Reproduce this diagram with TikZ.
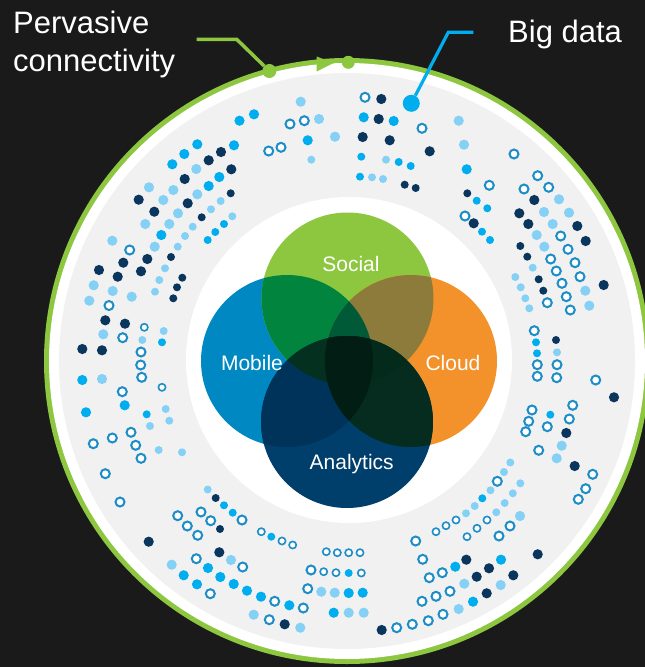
\documentclass[tikz,border=0pt]{standalone}
\usepackage{fontspec}
\setmainfont{Liberation Sans}
\definecolor{bgdark}{HTML}{1A1A1A}
\definecolor{ringgreen}{HTML}{8DC63F}
\definecolor{diskgrey}{HTML}{F1F1F1}
\definecolor{dotnavy}{HTML}{0A365E}
\definecolor{dotcyan}{HTML}{00AEEF}
\definecolor{dotlight}{HTML}{84D1F5}
\definecolor{dotring}{HTML}{1C8DC6}
\definecolor{mobileblue}{HTML}{0088C2}
\definecolor{socialgreen}{HTML}{8DC63F}
\definecolor{cloudorange}{HTML}{F3922B}
\definecolor{analyticsnavy}{HTML}{003E6B}
\definecolor{msgreen}{HTML}{00843E}
\definecolor{scolive}{HTML}{8C7B3A}
\definecolor{mscgreen}{HTML}{005A37}
\definecolor{manavy}{HTML}{00335A}
\definecolor{cagreen}{HTML}{052C1F}
\definecolor{msagreen}{HTML}{04311F}
\definecolor{csagreen}{HTML}{042A1C}
\definecolor{corenavy}{HTML}{021D13}
\newcommand\MobileDisk{(287,361) circle[radius=86pt]}
\newcommand\SocialDisk{(347.5,298.5) circle[radius=86pt]}
\newcommand\CloudDisk{(411,361) circle[radius=86pt]}
\newcommand\AnalyticsDisk{(347,422) circle[radius=86pt]}
\newcommand\LabelFont{\fontsize{31}{38}\selectfont}
\newcommand\VennFont{\fontsize{21}{25}\selectfont}

\begin{document}
\begin{tikzpicture}[x=1pt,y=-1pt,
  navydot/.style={fill=dotnavy},
  cyandot/.style={fill=dotcyan},
  lightdot/.style={fill=dotlight},
  ringdot/.style={draw=dotring,fill=white,line width=2pt},
  smallring/.style={draw=dotring,fill=white,line width=1.6pt},
  vennlabel/.style={text=white,font=\VennFont,anchor=base,inner sep=0pt},
  sidelabel/.style={text=white,font=\LabelFont,anchor=base west,inner sep=0pt}]
\fill[bgdark] (0,0) rectangle (645,667);
\useasboundingbox (0,0) rectangle (645,667);
% Drawing rings
\fill[ringgreen] (347,361) circle[radius=303pt];
\fill[white] (347,361) circle[radius=298pt];
\fill[diskgrey] (347,361) circle[radius=288pt];
\fill[white] (349,360) circle[radius=163pt];
\fill[ringgreen] (316.7,56.5) -- (333.5,63) -- (316.7,71.5) -- cycle;
% Done with rings; drawing dots
\foreach \x/\y in {381.3/99, 378.7/119, 362.7/137, 389.7/140.3, 429.7/151.3, 534.3/200, 519.3/213.3, 528.3/224, 473.7/223.3, 577.3/226, 585.7/241, 603.7/285, 614/397.3, 566.3/433, 574.7/466, 537.7/554.3, 466.3/559.7, 489/568.3, 476.7/576.7, 513.3/575.3, 486.7/593.3, 381.7/630, 148.7/541.7, 219.3/552.3, 284.7/624.3, 105.3/320.3, 125/323.7, 82.3/349, 102/350.3, 221/152, 208.7/160.3, 231.3/169.3, 184.7/179, 138.7/199.7, 187.7/203.3, 154.3/211.7, 123.3/262.7, 147.3/259, 99/270, 141/271.3, 117.7/276.7}
  \fill[navydot] (\x,\y) circle[radius=5.1pt];
\foreach \x/\y in {404.7/184.7, 415.7/188, 467.3/193.3, 520.3/246, 527.3/256.7, 538.7/279.3, 543.3/290.7, 556/340, 215.7/498, 220/529, 173.3/298.3, 230.7/193.3, 201.7/217.3, 171/257, 182.3/277.7, 177/287.3}
  \fill[navydot] (\x,\y) circle[radius=4pt];
\foreach \x/\y in {254/114.3, 239.5/120.7, 307.7/140.3, 363.7/117.3, 393.7/121, 466.7/169.3, 501/559.7, 455.3/566.7, 473/601.7, 208/568, 183.7/575.3, 220.3/577, 197/584.3, 233.7/584, 247/590.7, 261/596.7, 289.3/605.3, 348.7/593, 362.7/592.7, 333.7/612.7, 124.7/405.3, 86/412.3, 82.3/380, 197.3/144.3, 234/145.3, 184.3/154, 172.3/164.3, 219.3/177, 208.7/186, 161.3/235}
  \fill[cyandot] (\x,\y) circle[radius=5.1pt];
\foreach \x/\y in {361.3/156.7, 398.7/162, 410.7/166, 360/176.7, 476.7/200.7, 487.3/208.3, 482/231.7, 490/240, 536/342.3, 537/353.3, 550.3/414.7, 482.3/498.3, 224/505.3, 232.7/512.7, 271.3/536.7, 348.7/573, 162/342.3, 146.7/414.3, 224/224, 215.3/232, 207.7/240}
  \fill[cyandot] (\x,\y) circle[radius=4pt];
\foreach \x/\y in {300.7/101.7, 319/119, 335/136.7, 458.7/120.7, 464/144.7, 559/199.3, 544/212, 569/212.7, 552.7/224, 536.7/235, 544.3/246.7, 585.3/290.7, 589.3/305.7, 561.7/445.7, 556.7/458.3, 520/516, 464.3/583.7, 500.7/585, 458.7/609, 321.3/591.7, 334.7/592.7, 348.7/612.7, 363.7/612.7, 231/560, 171.7/564.7, 253.7/614.7, 300.3/627.7, 89.3/300.7, 131.7/296.7, 103.3/334.3, 102/379, 149/187.3, 196.3/169, 173.3/190, 163.3/200, 197.3/194.3, 178/213.3, 145.3/224, 169.3/224, 112.3/240.7, 154.7/246.7, 93.7/285.3, 112.7/291}
  \fill[lightdot] (\x,\y) circle[radius=5.1pt];
\foreach \x/\y in {311.3/159.7, 386/159.7, 372/177.3, 383/179, 532.7/267.7, 515.3/277, 520.7/287.3, 525.3/298.3, 529.3/308.3, 557/352.3, 510.3/462.5, 504/472, 520.3/483.3, 490.5/490.3, 512.8/493.3, 504.7/503, 474.7/506, 496.3/512.3, 466/513.3, 207.7/489.5, 155/291.7, 163.7/331, 142.3/340, 165.7/409, 169.3/420.7, 150/426, 158.7/450, 182/452.3, 220.7/201, 211/209.3, 232.3/216.3, 192.7/226.7, 185/236, 177.7/246.7, 165/268.3, 159.3/280}
  \fill[lightdot] (\x,\y) circle[radius=4pt];
\foreach \x/\y in {365/97.3, 290/124, 304.3/120.7, 268.7/151, 281/147.3, 422/128.3, 489.3/185.3, 465/216, 514/154, 537.7/175.7, 524/189, 548.7/187.3, 560.7/236, 568/249.3, 550.7/259, 575/262.7, 556.3/271, 580/276.7, 562/283.3, 566.3/296.7, 547.3/302.7, 570.3/310, 534.3/330.7, 537.3/364.7, 557/364.7, 537.3/376.3, 556.7/377.7, 595.7/380, 532/410, 572.7/405.3, 528.7/421.3, 569.3/419, 547.3/426.7, 525.7/431.7, 538.7/450.3, 592.7/474.3, 497.3/481.3, 585.7/488.7, 578.3/499.3, 510/526, 499/536, 415.7/541, 422.7/559.3, 442.3/572.7, 429.3/577.7, 450/591.3, 436/596.3, 422/601.3, 443/614.3, 428.3/620.7, 412.3/624.3, 396.7/627.7, 242/520, 177.7/515.7, 201/512, 187.3/526, 210.7/520.7, 197.7/535.3, 311/570, 307.7/588.7, 242.7/567, 196.3/558.7, 210.3/593.7, 274.7/601.3, 303.3/608, 269.3/619.7, 109/305.5, 122.7/337.7, 141/352, 140.7/365, 141.7/377.3, 122.3/391.7, 131/432.3, 112.3/438, 93.3/443.7, 135.7/445.3, 141/458.3, 105.3/473.7, 120/502, 129.7/250}
  \draw[ringdot] (\x,\y) circle[radius=4.5pt];
\foreach \x/\y in {487/520, 477/528.3, 467/536.7, 456/520, 446/525.7, 436/531.7, 261.3/531.7, 282/541, 292.7/545, 326.3/551.7, 337.3/552.7, 348.7/552.7, 360/552.7, 323.7/571.7, 336/572.7, 361.3/573, 144.3/327.3, 162/387.3}
  \draw[smallring] (\x,\y) circle[radius=3.6pt];
% Done with dots; drawing venn
\fill[mobileblue] \MobileDisk;
\fill[socialgreen] \SocialDisk;
\fill[cloudorange] \CloudDisk;
\fill[analyticsnavy] \AnalyticsDisk;
\begin{scope}
\clip \SocialDisk;
\fill[msgreen] \MobileDisk;
\fill[scolive] \CloudDisk;
\clip \MobileDisk;
\fill[mscgreen] \CloudDisk;
\end{scope}
\begin{scope}
\clip \AnalyticsDisk;
\fill[manavy] \MobileDisk;
\fill[cagreen] \CloudDisk;
\end{scope}
\begin{scope}
\clip \AnalyticsDisk;
\clip \SocialDisk;
\fill[msagreen] \MobileDisk;
\fill[csagreen] \CloudDisk;
\end{scope}
\begin{scope}
\clip \AnalyticsDisk;
\clip \MobileDisk;
\fill[corenavy] \CloudDisk;
\end{scope}
\node[vennlabel] (social) at (351,271.7) {Social};
\node[vennlabel] (mobile) at (252,370) {Mobile};
\node[vennlabel] (cloud) at (453,370) {Cloud};
\node[vennlabel] (analytics) at (351.7,469.3) {Analytics};
% Done with venn; drawing labels
\node[circle,fill=ringgreen,minimum size=14pt,inner sep=0pt] (gdotA) at (269.3,71) {};
\node[circle,fill=ringgreen,minimum size=13pt,inner sep=0pt] (gdotB) at (348.3,62.3) {};
\node[circle,fill=dotcyan,minimum size=17pt,inner sep=0pt] (bigdot) at (411.3,103.3) {};
\coordinate (pcA) at (196.7,39.3);
\coordinate (pcB) at (236.7,39.3);
\coordinate (bdA) at (473.3,32.3);
\coordinate (bdB) at (448.3,32.3);
\draw[ringgreen,line width=3.5pt] (pcA) -- (pcB) -- (gdotA);
\draw[dotcyan,line width=3.2pt] (bdA) -- (bdB) -- (bigdot);
\node[sidelabel] (pervasive) at (13,33.3) {Pervasive};
\node[sidelabel] (connectivity) at (13,71.7) {connectivity};
\node[sidelabel] (bigdata) at (508,42.5) {Big data};
% Done with labels
\end{tikzpicture}
\end{document}
